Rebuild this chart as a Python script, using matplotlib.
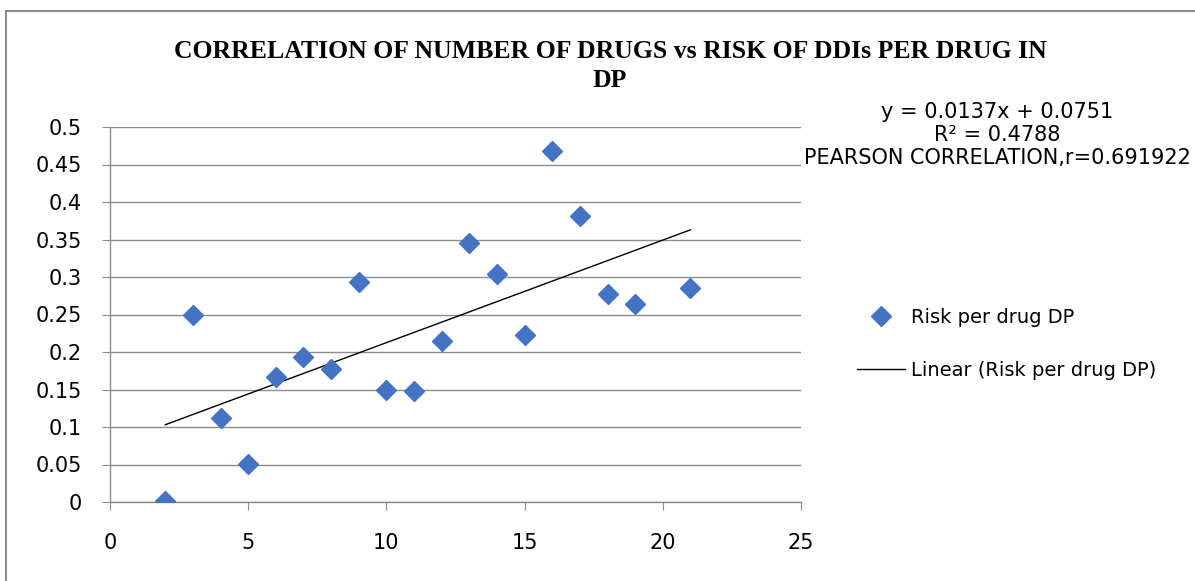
import matplotlib.pyplot as plt
from matplotlib.patches import Rectangle
import numpy as np

num_drugs = [2, 3, 4, 5, 6, 7, 8, 9, 10, 11, 12, 13, 14, 15, 16, 17, 18, 19, 21]
risk_per_drug = [0.001, 0.250, 0.112, 0.051, 0.167, 0.194, 0.177, 0.294, 0.150, 0.148,
                 0.215, 0.346, 0.304, 0.223, 0.468, 0.382, 0.278, 0.264, 0.286]
x_ticks = [0, 5, 10, 15, 20, 25]
y_ticks = [0, 0.05, 0.1, 0.15, 0.2, 0.25, 0.3, 0.35, 0.4, 0.45, 0.5]
y_tick_labels = ['0', '0.05', '0.1', '0.15', '0.2', '0.25', '0.3', '0.35', '0.4', '0.45', '0.5']

fig = plt.figure(figsize=(11.95, 5.81), dpi=100)
ax = fig.add_axes([110 / 1195, 79 / 581, 691 / 1195, 375 / 581])

# chart border
fig.patches.append(Rectangle((6 / 1195, -0.05), 1.05, 1 - 11 / 581 + 0.05,
                             transform=fig.transFigure, fill=False,
                             edgecolor='#8c8c8c', linewidth=1.5))

ax.plot(num_drugs, risk_per_drug, linestyle='none', marker='D', markersize=10.5,
        color='#4472C4', label='Risk per drug DP', zorder=3)

slope, intercept = np.polyfit(num_drugs, risk_per_drug, 1)
xs = np.array([min(num_drugs), max(num_drugs)])
ax.plot(xs, slope * xs + intercept, color='black', linewidth=1,
        label='Linear (Risk per drug DP)', zorder=2)

ax.set_xlim(0, 25)
ax.set_ylim(0, 0.5)
ax.set_xticks(x_ticks)
ax.set_yticks(y_ticks)
ax.set_yticklabels(y_tick_labels)
ax.grid(axis='y', color='#8c8c8c', linewidth=1)
ax.set_axisbelow(True)
for s in ['top', 'right']:
    ax.spines[s].set_visible(False)
for s in ['left', 'bottom']:
    ax.spines[s].set_color('#8c8c8c')
    ax.spines[s].set_linewidth(1)
ax.tick_params(colors='#8c8c8c', labelcolor='black', labelsize=15, length=6)
ax.tick_params(axis='x', pad=16)
ax.tick_params(axis='y', pad=14)

fig.text(610 / 1195, 1 - 66 / 581, 'CORRELATION OF NUMBER OF DRUGS vs RISK OF DDIs PER DRUG IN\nDP',
         ha='center', va='center', fontsize=18.5, fontweight='bold',
         family='Liberation Serif', linespacing=1.3)

fig.text(997 / 1195, 1 - 135 / 581,
         'y = 0.0137x + 0.0751\nR\u00b2 = 0.4788\nPEARSON CORRELATION,r=0.691922',
         ha='center', va='center', fontsize=15, linespacing=1.2)

fig.legend(loc='center left', bbox_to_anchor=(839 / 1195, 1 - 344 / 581), frameon=False,
           fontsize=14, handlelength=2.5, labelspacing=1.75, handletextpad=0.3)

plt.savefig('out.png', dpi=100)
